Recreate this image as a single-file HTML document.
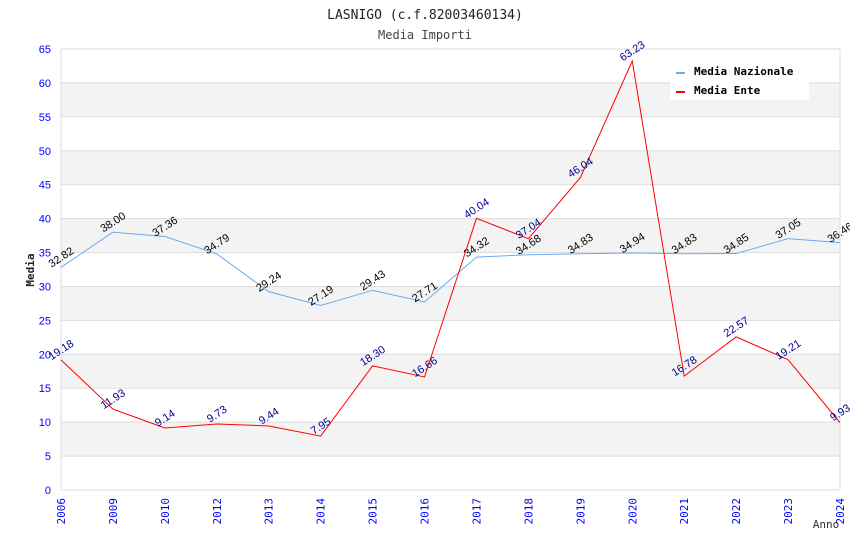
<!DOCTYPE html>
<html><head><meta charset="utf-8"><style>
body{margin:0;background:#fff}
svg text{font-family:"DejaVu Sans Mono","Liberation Mono",monospace}
svg text.s{font-family:"Liberation Sans",sans-serif}
</style></head><body>
<svg id="c" width="850" height="550" xmlns="http://www.w3.org/2000/svg">
<text x="425" y="19" text-anchor="middle" font-size="13" fill="#222">LASNIGO (c.f.82003460134)</text>
<text x="425" y="39" text-anchor="middle" font-size="12" fill="#444">Media Importi</text>
<g id="g"></g>
<g>
<rect x="670" y="60" width="139" height="40" fill="#fff"/>
<rect x="676" y="72" width="9" height="2" fill="#6aaaf0"/>
<text x="694" y="75" font-size="11" font-weight="bold" fill="#000">Media Nazionale</text>
<rect x="676" y="91" width="9" height="2" fill="#f00"/>
<text x="694" y="94" font-size="11" font-weight="bold" fill="#000">Media Ente</text>
</g>
<text x="34" y="270" font-size="11" font-weight="bold" fill="#222" transform="rotate(-90 34 270)" text-anchor="middle">Media</text>
<text x="826" y="528" font-size="11" fill="#333" text-anchor="middle">Anno</text>
</svg>
<script>
const years=["2006","2009","2010","2012","2013","2014","2015","2016","2017","2018","2019","2020","2021","2022","2023","2024"];
const nazionale=[32.82,38.00,37.36,34.79,29.24,27.19,29.43,27.71,34.32,34.68,34.83,34.94,34.83,34.85,37.05,36.46];
const ente=[19.18,11.93,9.14,9.73,9.44,7.95,18.30,16.66,40.04,37.04,46.04,63.23,16.78,22.57,19.21,9.93];
const yTicks=[0,5,10,15,20,25,30,35,40,45,50,55,60,65];
const NS="http://www.w3.org/2000/svg";
const X0=61,X1=840,Y0=490,Y1=49;
const x=i=>X0+i*(X1-X0)/(years.length-1);
const y=v=>Y0-(v-0)/(65-0)*(Y0-Y1);
const g=document.getElementById('g');
function mk(t,a,p){const e=document.createElementNS(NS,t);for(const k in a)e.setAttribute(k,a[k]);(p||g).appendChild(e);return e;}
for(let i=0;i<yTicks.length-1;i++){const a=yTicks[i],b=yTicks[i+1];
 const r=mk('rect',{x:X0,y:y(b),width:X1-X0,height:y(a)-y(b),fill:i%2==1?'#f3f3f3':'#fff'});
 
 }
yTicks.forEach(v=>{const l=mk('line',{x1:X0,x2:X1,y1:y(v),y2:y(v),stroke:'#ddd'});
 
 
 const t=mk('text',{x:X0-10,y:y(v)+4,'text-anchor':'end','font-size':11,fill:'#00f',class:'s'});t.textContent=v;
 
 });
mk('line',{x1:X0,x2:X0,y1:Y1,y2:Y0,stroke:'#ddd'});
mk('line',{x1:X1,x2:X1,y1:Y1,y2:Y0,stroke:'#ddd'});
years.forEach((yr,i)=>{const t=mk('text',{x:0,y:0,'font-size':11,fill:'#00f','text-anchor':'end',transform:`translate(${x(i)+4},${Y0+8}) rotate(-90)`});t.textContent=yr;
 
 });
function series(d,col,lc,name){
 const p=mk('polyline',{points:d.map((v,i)=>x(i)+','+y(v)).join(' '),fill:'none',stroke:col,'stroke-width':1});
 
 
 d.forEach((v,i)=>{const t=mk('text',{x:0,y:0,'font-size':11,fill:lc,class:'s','text-anchor':'middle',transform:`translate(${x(i)+2},${y(v)-7}) rotate(-33)`});t.textContent=v.toFixed(2);
  
  });
}
series(nazionale,'#6aaaf0','#000','nazionale');
series(ente,'#f00','#00008b','ente');
</script>
</body></html>
